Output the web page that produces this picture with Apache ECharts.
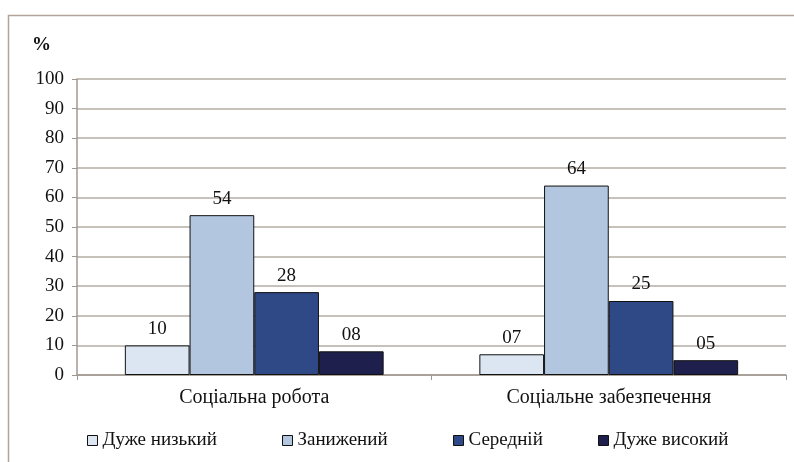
<!DOCTYPE html>
<html><head><meta charset="utf-8">
<script src="https://cdn.jsdelivr.net/npm/echarts@6/dist/echarts.min.js"></script>
<style>html,body{margin:0;padding:0;background:#fff}#c{width:794px;height:462px}</style>
</head><body><div id="c"></div>
<script>
var categories = ['Соціальна робота', 'Соціальне забезпечення'];
var seriesNames = ['Дуже низький', 'Занижений', 'Середній', 'Дуже високий'];
var veryLow = [10, 7];
var lowered = [54, 64];
var medium = [28, 25];
var veryHigh = [8, 5];
var yTicks = [0, 10, 20, 30, 40, 50, 60, 70, 80, 90, 100];

var colors = ['#dce6f2', '#b3c6e0', '#2f4886', '#1f1f4d'];
var values = [veryLow, lowered, medium, veryHigh];
var font = '"Liberation Serif", serif';
var legendLeft = [82, 277, 448, 593];

var chart = echarts.init(document.getElementById('c'));
chart.setOption({
  animation: false,
  backgroundColor: '#fff',
  textStyle: { fontFamily: font },
  title: { text: '%', left: 27, top: 31, textStyle: { fontFamily: font, fontSize: 19, fontWeight: 'bold', color: '#111' } },
  graphic: [{ type: 'rect', silent: true, shape: { x: 8.5, y: 15.5, width: 820, height: 480 }, style: { fill: null, stroke: '#b0a49c', lineWidth: 1.5 } }],
  grid: { left: 77, right: 8, top: 79, bottom: 87 },
  legend: seriesNames.map(function (n, i) {
    return {
      data: [n], left: legendLeft[i], top: 426, icon: 'rect', itemWidth: 10, itemHeight: 10, itemGap: 0,
      itemStyle: { borderColor: '#111', borderWidth: 1 },
      textStyle: { fontFamily: font, fontSize: 19, color: '#111', padding: [0, 0, 0, 0] }
    };
  }),
  xAxis: {
    type: 'category', data: categories,
    axisLine: { lineStyle: { color: '#a09890', width: 1.5 } },
    axisTick: { show: true, length: 5, lineStyle: { color: '#a09890' } },
    axisLabel: { fontFamily: font, fontSize: 20, color: '#111', margin: 13 }
  },
  yAxis: {
    type: 'value', min: yTicks[0], max: yTicks[yTicks.length - 1], interval: 10,
    axisLine: { show: true, lineStyle: { color: '#a09890', width: 1.5 } },
    axisTick: { show: true, length: 5, lineStyle: { color: '#a09890' } },
    axisLabel: { fontFamily: font, fontSize: 19, color: '#111', margin: 13 },
    splitLine: { lineStyle: { color: '#b5aca5', width: 1.5 } }
  },
  series: seriesNames.map(function (n, i) {
    return {
      name: n, type: 'bar', data: values[i], barGap: '0%', barCategoryGap: '27%',
      itemStyle: { color: colors[i], borderColor: '#111', borderWidth: 1 },
      label: {
        show: true, position: 'top', distance: 7, fontFamily: font, fontSize: 19, color: '#111',
        formatter: function (p) { return String(p.value).padStart(2, '0'); }
      }
    };
  })
});
</script></body></html>
